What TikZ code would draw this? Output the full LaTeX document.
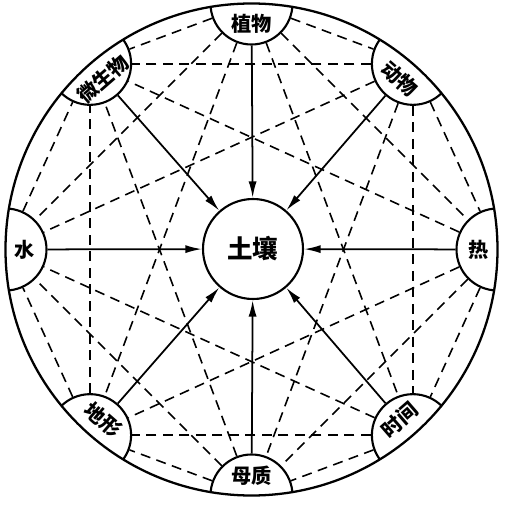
\documentclass[tikz,border=0pt]{standalone}
\usepackage{fontspec}
\newfontfamily\cjk{Noto Sans CJK SC}
\usetikzlibrary{arrows.meta}
\tikzset{
  capnode/.style={circle,minimum size=1.64cm,inner sep=0pt,draw,line width=1.2pt},
  capword/.style={font=\cjk\bfseries\fontsize{11.5}{11.5}\selectfont,inner sep=0pt},
  dashline/.style={dash pattern=on 2mm off 1.3mm,line width=0.9pt},
  arrowline/.style={line width=1pt,-{Latex[length=3.3mm,width=1.6mm]}}
}
\begin{document}
\begin{tikzpicture}
				\useasboundingbox (-5.03,-5.17) rectangle (5.11,4.99);
				% cap circles, cut off by the outer circle
				\begin{scope}
				\clip (0,0) circle (4.92);
				\foreach \a [count=\i] in {90,49,0,-49,-90,-131,180,131}
				\node[capnode] (p\i) at (\a:4.92) {};
				\end{scope}
				\draw[line width=1.3pt] (0,0) circle (4.92);
				\node[circle,draw,line width=1.2pt,minimum size=2cm,font=\cjk\bfseries\fontsize{14.5}{14.5}\selectfont] (soil) at (0.03,0.01) {土壤};
				% labels
				\node[capword] (t1) at (90:4.52) {植物};
				\node[capword,rotate=-41] (t2) at (49:4.52) {动物};
				\node[capword] (t3) at (0:4.54) {热};
				\node[capword,rotate=41] (t4) at (-49:4.52) {时间};
				\node[capword] (t5) at (-90:4.52) {母质};
				\node[capword,rotate=-41] (t6) at (-131:4.52) {地形};
				\node[capword] (t7) at (180:4.54) {水};
				\node[capword,rotate=41] (t8) at (131:4.52) {微生物};
				% dashed links between factors
				\foreach \i in {1,...,8}
				\foreach \j in {1,...,8}{
					\pgfmathtruncatemacro\d{\j-\i}
					\ifnum\d>0 \ifnum\d=4 \else \draw[dashline] (p\i) -- (p\j); \fi\fi
				}
				% arrows into soil
				\foreach \i in {1,...,8}
				\draw[arrowline] (p\i) -- (soil);
			\end{tikzpicture}
\end{document}
